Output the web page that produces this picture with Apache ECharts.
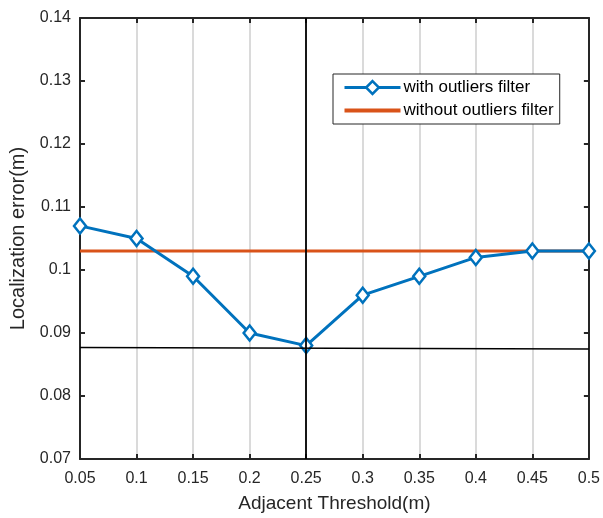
<!DOCTYPE html>
<html>
<head>
<meta charset="utf-8">
<script src="https://cdn.jsdelivr.net/npm/echarts@6/dist/echarts.min.js"></script>
<style>html,body{margin:0;padding:0;background:#fff}#c{width:603px;height:518px}</style>
</head>
<body>
<div id="c"></div>
<script>
const thresholds = [0.05, 0.1, 0.15, 0.2, 0.25, 0.3, 0.35, 0.4, 0.45, 0.5];
const withFilter = [0.107, 0.105, 0.099, 0.090, 0.088, 0.096, 0.099, 0.102, 0.103, 0.103];
const withoutFilter = [0.103, 0.103, 0.103, 0.103, 0.103, 0.103, 0.103, 0.103, 0.103, 0.103];
const verticalRefX = 0.25;
const horizontalRef = [[0.05, 0.0877], [0.5, 0.08746]];
const seriesNames = ['with outliers filter', 'without outliers filter'];

const FONT = 'Liberation Sans, Arial, sans-serif';
const AX = '#262626';
const fmt = v => String(+v.toFixed(2));

const chart = echarts.init(document.getElementById('c'), null, {renderer: 'canvas'});
const axisCommon = {
  axisLine: {show: true, onZero: false, lineStyle: {color: AX, width: 2}},
  axisTick: {show: true, inside: true, length: 5, lineStyle: {color: AX, width: 2}},
};
chart.setOption({
  animation: false,
  backgroundColor: '#fff',
  grid: {left: 80, right: 8, top: 18, bottom: 55, containLabel: false},
  legend: {
    orient: 'vertical', left: 333, top: 74,
    backgroundColor: '#fff', borderColor: AX, borderWidth: 1,
    padding: [5, 6, 5, 10], itemGap: 6, itemWidth: 56, itemHeight: 16,
    textStyle: {fontFamily: FONT, fontSize: 17, color: '#000', padding: [0, 0, 0, -2]},
    data: [
      {name: seriesNames[0], lineStyle: {width: 3}, itemStyle: {borderWidth: 2.5}},
      {name: seriesNames[1], icon: 'path://M0,0 L56,0 L56,4 L0,4 Z'}
    ]
  },
  xAxis: [
    Object.assign({
      type: 'value', position: 'bottom', min: 0.05, max: 0.5, interval: 0.05,
      name: 'Adjacent Threshold(m)', nameLocation: 'middle', nameGap: 35,
      nameTextStyle: {fontFamily: FONT, fontSize: 19, color: '#262626'},
      axisLabel: {formatter: fmt, fontFamily: FONT, fontSize: 16, color: '#262626', margin: 12, showMaxLabel: true, showMinLabel: true},
      splitLine: {show: true, lineStyle: {color: '#dadada', width: 2}}
    }, axisCommon),
    Object.assign({
      type: 'value', position: 'top', min: 0.05, max: 0.5, interval: 0.05,
      axisLabel: {show: false}, splitLine: {show: false}
    }, axisCommon)
  ],
  yAxis: [
    Object.assign({
      type: 'value', position: 'left', min: 0.07, max: 0.14, interval: 0.01,
      name: 'Localization error(m)', nameLocation: 'middle', nameGap: 48,
      nameTextStyle: {fontFamily: FONT, fontSize: 20, color: '#262626'},
      axisLabel: {formatter: fmt, fontFamily: FONT, fontSize: 16, color: '#262626', margin: 9},
      splitLine: {show: false}
    }, axisCommon),
    Object.assign({
      type: 'value', position: 'right', min: 0.07, max: 0.14, interval: 0.01,
      axisLabel: {show: false}, splitLine: {show: false}
    }, axisCommon)
  ],
  series: [
    {
      name: seriesNames[1], type: 'line', symbol: 'none', z: 3,
      data: thresholds.map((x, i) => [x, withoutFilter[i]]),
      lineStyle: {color: '#D95319', width: 3}, itemStyle: {color: '#D95319'},
      markLine: {
        silent: true, symbol: ['none', 'none'], label: {show: false},
        lineStyle: {color: '#000', width: 1.3, type: 'solid'},
        data: [
          [{coord: horizontalRef[0]}, {coord: horizontalRef[1]}],
          {xAxis: verticalRefX, lineStyle: {width: 1.8}}
        ]
      }
    },
    {
      name: seriesNames[0], type: 'line', symbol: 'diamond', symbolSize: [12, 15], z: 4,
      data: thresholds.map((x, i) => [x, withFilter[i]]),
      lineStyle: {color: '#0072BD', width: 3},
      itemStyle: {color: '#fff', borderColor: '#0072BD', borderWidth: 2.5}
    }
  ]
});
</script>
</body>
</html>
